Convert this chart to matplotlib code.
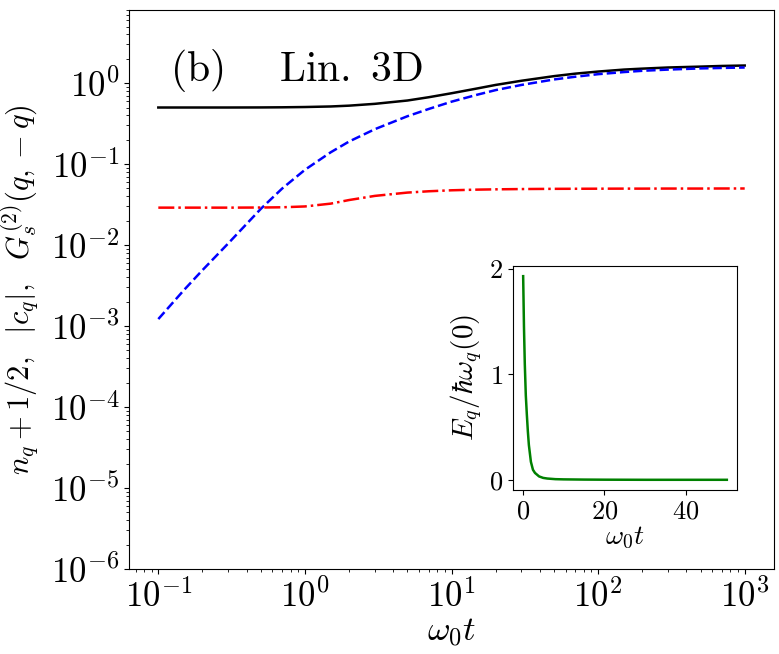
import matplotlib
matplotlib.use("Agg")
import matplotlib.pyplot as plt

plt.rcParams['mathtext.fontset'] = 'cm'
plt.rcParams['font.family'] = 'serif'
plt.rcParams['font.serif'] = ['cmr10']
plt.rcParams['axes.formatter.use_mathtext'] = True
plt.rcParams['axes.unicode_minus'] = False

# main panel
t = [0.1, 0.15, 0.2, 0.3, 0.5, 0.7, 1, 1.5, 2, 3, 5, 7, 10, 15, 20, 30, 50,
     70, 100, 150, 200, 300, 500, 700, 1000]
n_half = [0.5, 0.5, 0.5, 0.5, 0.501, 0.503, 0.507, 0.515, 0.527, 0.555, 0.61,
          0.67, 0.75, 0.86, 0.95, 1.07, 1.22, 1.31, 1.39, 1.47, 1.51, 1.56,
          1.60, 1.63, 1.65]
c_abs = [0.00122, 0.0028, 0.0049, 0.0105, 0.028, 0.05, 0.085, 0.14, 0.19, 0.27,
         0.39, 0.48, 0.59, 0.72, 0.82, 0.95, 1.11, 1.20, 1.29, 1.37, 1.42,
         1.47, 1.52, 1.54, 1.56]
g2 = [0.029, 0.029, 0.029, 0.029, 0.0291, 0.0293, 0.0300, 0.0325, 0.0360,
      0.0405, 0.0445, 0.0462, 0.0475, 0.0484, 0.0488, 0.0492, 0.0495, 0.0496,
      0.0497, 0.0498, 0.0498, 0.0499, 0.0499, 0.0500, 0.0500]

# inset, linear axes
t_in = [0.1, 0.3, 0.5, 0.75, 1, 1.25, 1.5, 2, 2.5, 3, 4, 5, 6, 8, 10, 15, 20,
        30, 40, 50]
e_in = [1.93, 1.45, 1.10, 0.80, 0.62, 0.46, 0.33, 0.17, 0.095, 0.065, 0.032,
        0.018, 0.012, 0.006, 0.004, 0.002, 0.001, 0.0, 0.0, 0.0]
inset_ticks = [0, 20, 40]

fig = plt.figure(figsize=(7.79, 6.54), dpi=100)
ax = fig.add_axes([0.1656, 0.1300, 0.8280, 0.8547])
ax.plot(t, n_half, '-', color='k', lw=1.8)
ax.plot(t, c_abs, '--', color='b', lw=1.8)
ax.plot(t, g2, '-.', color='r', lw=1.8)
ax.set_xscale('log')
ax.set_yscale('log')
ax.set_ylim(1e-6, 8)
ax.set_xlabel(r'$\omega_0 t$', fontsize=25, labelpad=2)
ax.set_ylabel(r'$n_q+1/2,\ \ |c_q|,\ \ G_s^{(2)}(q,-q)$', fontsize=22, labelpad=7)
ax.tick_params(labelsize=25)
ax.text(0.063, 0.873, r'$\mathrm{(b)}$', transform=ax.transAxes, fontsize=30)
ax.text(0.233, 0.873, r'$\mathrm{Lin.\ 3D}$', transform=ax.transAxes, fontsize=30)

ins = fig.add_axes([0.6585, 0.2508, 0.2876, 0.3425])
ins.plot(t_in, e_in, '-', color='g', lw=1.8)
ins.set_xticks(inset_ticks)
ins.set_xlabel(r'$\omega_0 t$', fontsize=20, labelpad=1)
ins.set_ylabel(r'$E_q/\hbar\omega_q(0)$', fontsize=21, labelpad=4)
ins.tick_params(labelsize=19)

fig.savefig('out.png', dpi=100)
